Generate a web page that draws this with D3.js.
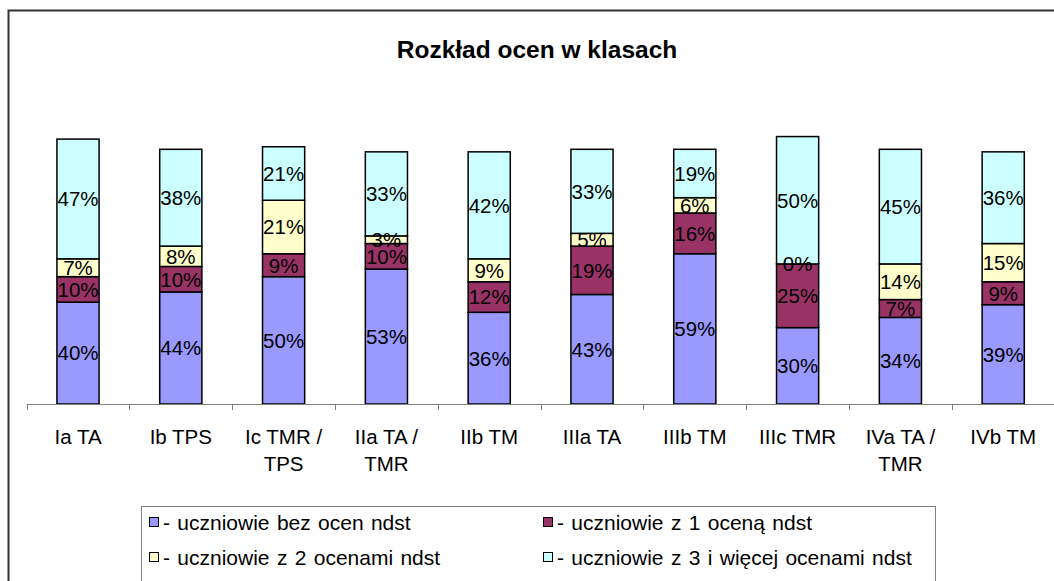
<!DOCTYPE html>
<html lang="pl">
<head>
<meta charset="UTF-8">
<title>Rozkład ocen w klasach</title>
<script src="https://cdn.jsdelivr.net/npm/d3@7"></script>
<style>
  body { margin: 0; background: #fff; }
  svg { font-family: Arial, "Liberation Sans", sans-serif; }
</style>
</head>
<body>
<div id="chart"></div>
<script>
const categories = ["Ia TA", "Ib TPS", "Ic TMR / TPS", "IIa TA / TMR", "IIb TM",
                    "IIIa TA", "IIIb TM", "IIIc TMR", "IVa TA / TMR", "IVb TM"];
const bezOcen   = [40, 44, 50, 53, 36, 43, 59, 30, 34, 39];
const z1Ocena   = [10, 10,  9, 10, 12, 19, 16, 25,  7,  9];
const z2Ocenami = [ 7,  8, 21,  3,  9,  5,  6,  0, 14, 15];
const z3Ocenami = [47, 38, 21, 33, 42, 33, 19, 50, 45, 36];
const seriesNames = ["- uczniowie bez ocen ndst", "- uczniowie z 1 oceną ndst",
                     "- uczniowie z 2 ocenami ndst", "- uczniowie z 3 i więcej ocenami ndst"];
const colors = ["#9999FF", "#993366", "#FFFFCC", "#CCFFFF"];

const width = 1054, height = 581;
const baseY = 404;

const svg = d3.select("#chart").append("svg")
    .attr("width", width)
    .attr("height", height);

// outer frame
svg.append("rect")
    .attr("x", 8.5).attr("y", 10.5)
    .attr("width", 1060).attr("height", 700)
    .attr("fill", "none")
    .attr("stroke", "#333")
    .attr("stroke-width", 2);

svg.append("text")
    .attr("x", 537).attr("y", 58)
    .attr("text-anchor", "middle")
    .attr("font-size", 24.5)
    .attr("font-weight", "bold")
    .text("Rozkład ocen w klasach");

const x = d3.scaleBand()
    .domain(categories)
    .range([26.6, 1054.6])
    .paddingInner(0.59)
    .paddingOuter(0.295);

const y = d3.scaleLinear()
    .domain([0, 100])
    .range([baseY, 149.3]);

const table = categories.map((c, i) => ({
  cat: c, s0: bezOcen[i], s1: z1Ocena[i], s2: z2Ocenami[i], s3: z3Ocenami[i]
}));
const keys = ["s0", "s1", "s2", "s3"];
const stacked = d3.stack().keys(keys)(table);

const layers = svg.append("g").selectAll("g")
  .data(stacked)
  .join("g")
    .attr("fill", (d, i) => colors[i]);

layers.selectAll("rect")
  .data(d => d)
  .join("rect")
    .attr("x", d => x(d.data.cat))
    .attr("y", d => y(d[1]))
    .attr("width", x.bandwidth())
    .attr("height", d => y(d[0]) - y(d[1]))
    .attr("stroke", "#000")
    .attr("stroke-width", 1.5);

// data labels
const labels = svg.append("g")
    .attr("font-size", 20.5)
    .attr("text-anchor", "middle");
stacked.forEach(layer => {
  labels.selectAll(null)
    .data(layer)
    .join("text")
      .attr("x", d => x(d.data.cat) + x.bandwidth() / 2)
      .attr("y", d => (y(d[0]) + y(d[1])) / 2)
      .attr("dy", "0.36em")
      .text(d => (d[1] - d[0]) + "%");
});

// x axis
const band = x.step();
const axis = svg.append("g")
    .attr("transform", `translate(0,${baseY})`)
    .call(d3.axisBottom(x).tickSize(0).tickPadding(25));
axis.select(".domain").attr("stroke", "#808080").attr("d", `M26.6,0.5H${width}`);
axis.selectAll(".tick text")
    .attr("font-size", 20.5)
    .attr("font-family", "Arial, 'Liberation Sans', sans-serif")
    .attr("fill", "#000")
    .call(wrap, 100);

svg.append("g")
    .attr("stroke", "#808080")
  .selectAll("line")
  .data(d3.range(categories.length + 1))
  .join("line")
    .attr("x1", i => Math.round(26.6 + i * band) + 0.5)
    .attr("x2", i => Math.round(26.6 + i * band) + 0.5)
    .attr("y1", baseY)
    .attr("y2", baseY + 6);

function wrap(texts, maxW) {
  texts.each(function() {
    const t = d3.select(this);
    const words = t.text().split(/\s+/);
    const yy = t.attr("y");
    t.text(null);
    let line = [];
    let lineNo = 0;
    let ts = t.append("tspan").attr("x", 0).attr("y", yy).attr("dy", "0.71em");
    for (const w of words) {
      line.push(w);
      ts.text(line.join(" "));
      if (ts.node().getComputedTextLength() > maxW && line.length > 1) {
        line.pop();
        ts.text(line.join(" "));
        line = [w];
        lineNo++;
        ts = t.append("tspan").attr("x", 0).attr("y", yy)
            .attr("dy", (0.71 + lineNo * 1.33) + "em").text(w);
      }
    }
  });
}

// legend
svg.append("rect")
    .attr("x", 141.5).attr("y", 506.5)
    .attr("width", 794).attr("height", 200)
    .attr("fill", "none")
    .attr("stroke", "#808080")
    .attr("stroke-width", 1);

const legend = svg.append("g").selectAll("g")
  .data(seriesNames)
  .join("g")
    .attr("transform", (d, i) => `translate(${i % 2 ? 543 : 149},${i < 2 ? 522 : 557})`);

legend.append("rect")
    .attr("x", 0.5).attr("y", -4.5)
    .attr("width", 9).attr("height", 9)
    .attr("fill", (d, i) => colors[i])
    .attr("stroke", "#000")
    .attr("stroke-width", 1);

legend.append("text")
    .attr("x", 14)
    .attr("dy", "0.36em")
    .attr("font-size", 21)
    .attr("word-spacing", 1.5)
    .text(d => d);
</script>
</body>
</html>
